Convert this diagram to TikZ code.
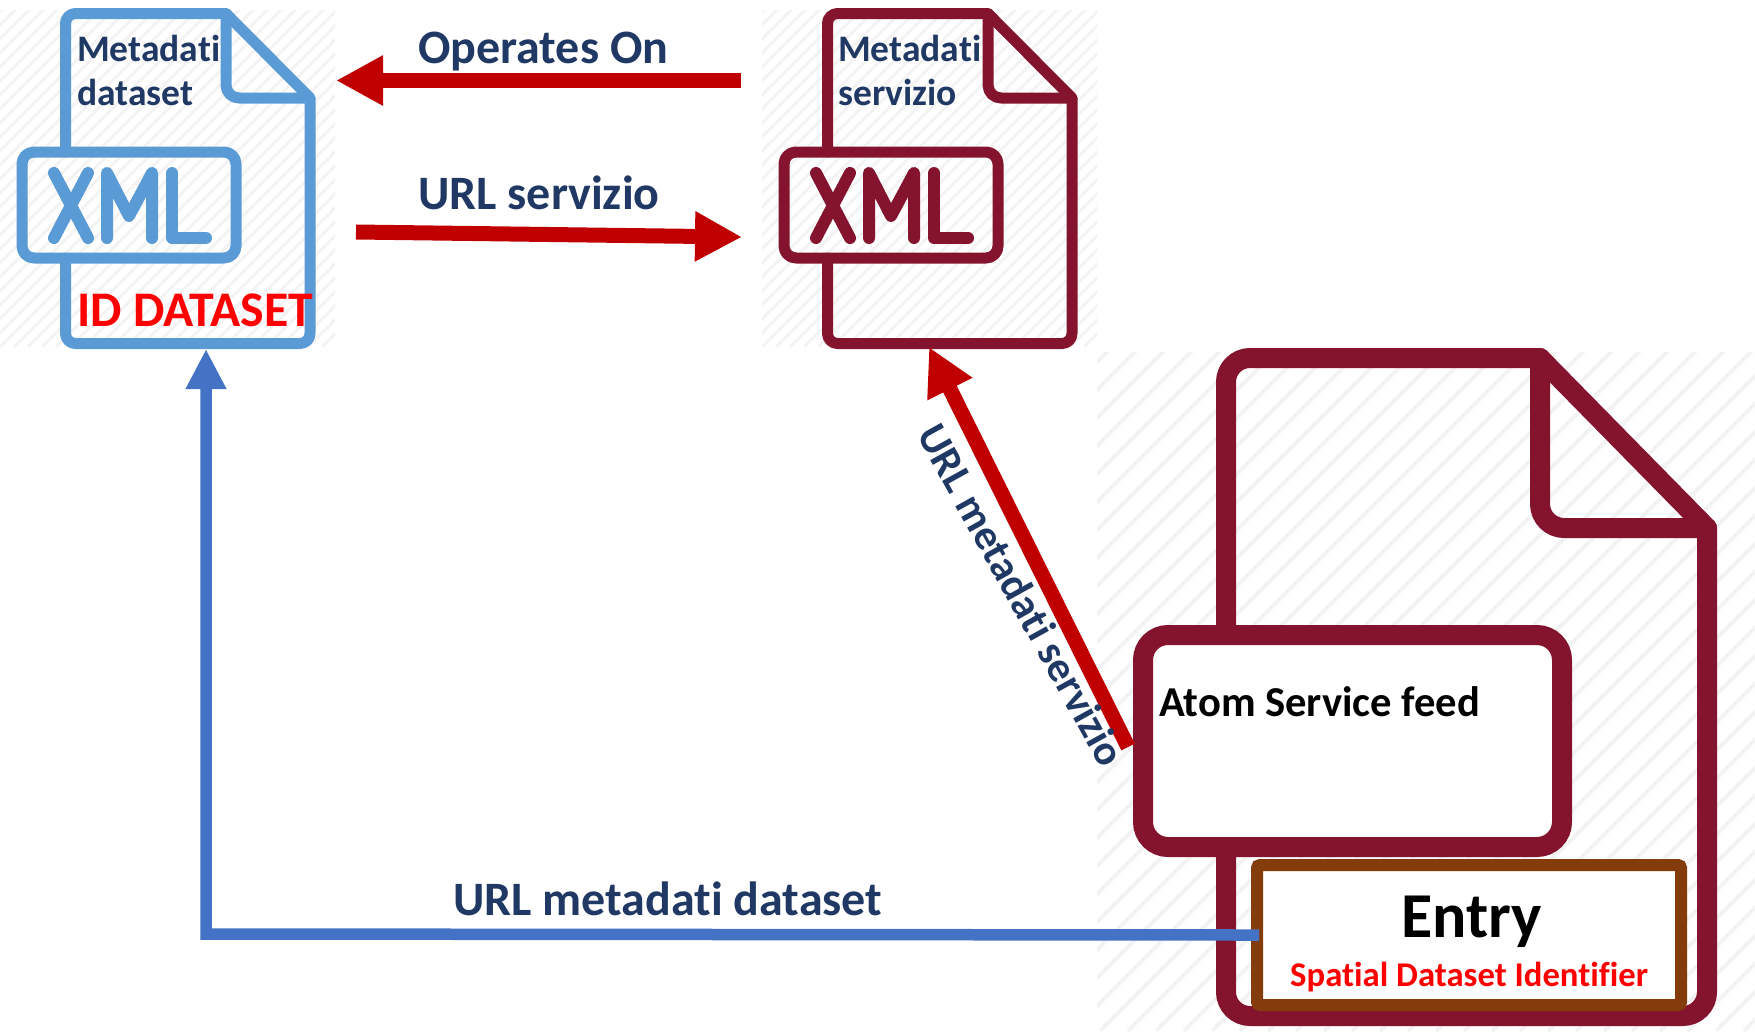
\documentclass[tikz,border=0pt]{standalone}
\usepackage{fontspec}
\setmainfont[Ligatures=CommonOff]{Carlito}
\usetikzlibrary{arrows.meta}
\definecolor{docblue}{HTML}{5B9BD5}
\definecolor{docred}{HTML}{84132E}
\definecolor{arrowred}{HTML}{C00000}
\definecolor{arrowblue}{HTML}{4472C4}
\definecolor{entrybrown}{HTML}{843C0C}
\definecolor{labelnavy}{HTML}{1F3864}
\definecolor{hatchgray}{HTML}{F3F3F3}
\tikzset{
	hatchline/.style={hatchgray, line width=3},
	docline/.style={line width=11, line join=round, line cap=round},
	redarrow/.style={arrowred, line width=15, -{Triangle[length=47pt,width=47pt]}},
	bluearrow/.style={arrowblue, line width=11.5, -{Triangle[length=40pt,width=38pt]}},
	textlabel/.style={font=\bfseries\fontsize{#1}{#1}\selectfont, anchor=base west, inner sep=0, text=labelnavy},
}

\begin{document}
\begin{tikzpicture}[x=1pt, y=-1pt]
	\useasboundingbox (0,0) rectangle (1755,1031);

	% Hatch %
	\foreach \dx in {0,762} {
		\begin{scope}[xshift=\dx]
			\clip (0,10) rectangle (335,347);
			\foreach \k in {0,14,...,700} \draw [hatchline] (\k-350,347) -- ++(350,-350);
		\end{scope}
	}
	\begin{scope}
		\clip (1097,352) rectangle (1755,1031);
		\foreach \k in {1100,1128,...,2480} \draw [hatchline, line width=4] (\k-700,1031) -- ++(700,-700);
	\end{scope}

	% Small documents %
	\foreach \dx/\doccol in {0/docblue, 762/docred} {
		\begin{scope}[xshift=\dx, \doccol]
			\draw [docline] (65.5,152) [rounded corners=10] -- (65.5,13.5) [sharp corners] -- (226,13.5) -- (310,98) [rounded corners=10] -- (310,343.5) -- (65.5,343.5) -- (65.5,258);
			\draw [docline, rounded corners=13] (226,13.5) -- (226,98) -- (310,98);
			\draw [docline, rounded corners=12] (22,152) rectangle (236,258);
			% XML %
			\draw [line width=12, line cap=round, line join=round] (54,173) -- (88,238) (88,173) -- (54,238);
			\draw [line width=12, line cap=round, line join=round] (107,238) -- (107,173) -- (129,216) -- (152,173) -- (152,238);
			\draw [line width=12, line cap=round, line join=round] (172,173) -- (172,238) -- (206,238);
		\end{scope}
	}

	% Big document %
	\draw [docred, docline, line width=20] (1226,640) [rounded corners=24] -- (1226,358) [sharp corners] -- (1540,358) -- (1707,528) [rounded corners=24] -- (1707,1016) -- (1226,1016) -- (1226,840);
	\draw [docred, docline, line width=20, rounded corners=24] (1540,358) -- (1540,528) -- (1707,528);
	\node [draw=docred, fill=white, line width=20, rounded corners=25, minimum width=419, minimum height=212] (atombox) at (1352.5,741) {};
	\node [draw=entrybrown, fill=white, line width=12, rounded corners=3, minimum width=424, minimum height=140] (entrybox) at (1469,935) {};

	% Anchors %
	\coordinate (opsfrom) at (741,80.5);
	\coordinate (opsto) at (336,80.5);
	\coordinate (urlfrom) at (356,232);
	\coordinate (urlto) at (742,237);
	\coordinate (atomout) at (1128,747);
	\coordinate (servicein) at (929,347);
	\coordinate (corner) at (206,934);
	\coordinate (datasetin) at (206,349);

	% Arrows %
	\draw [redarrow] (opsfrom) -- (opsto);
	\draw [redarrow] (urlfrom) -- (urlto);
	\draw [redarrow] (atomout) -- (servicein);
	\draw [bluearrow, shorten <=-8pt] (entrybox.west) -- (corner) -- (datasetin);

	% Labels %
	\node [textlabel=37.5] (lblmeta) at (77,61) {Metadati};
	\node [textlabel=37.5] (lbldata) at (77,105) {dataset};
	\node [textlabel=37.5] (lblmetaserv) at (838,61) {Metadati};
	\node [textlabel=37.5] (lblserv) at (838,105) {servizio};
	\node [textlabel=49.8, text=red] (lblid) at (77,326) {ID DATASET};
	\node [textlabel=48] (lblops) at (418,63) {Operates On};
	\node [textlabel=48] (lblurl) at (418,209) {URL servizio};
	\node [textlabel=48] (lblurlds) at (453,915) {URL metadati dataset};
	\node [textlabel=42.5, anchor=center, rotate=-61] (lblurlserv) at (1022,595) {URL metadati servizio};
	\node [textlabel=42.6, text=black] (lblatom) at (1159,716) {Atom Service feed};
	\node [textlabel=64, text=black] (lblentry) at (1401,937) {Entry};
	\node [textlabel=34.7, text=red] (lblspatial) at (1290,986) {Spatial Dataset Identifier};
\end{tikzpicture}
\end{document}
